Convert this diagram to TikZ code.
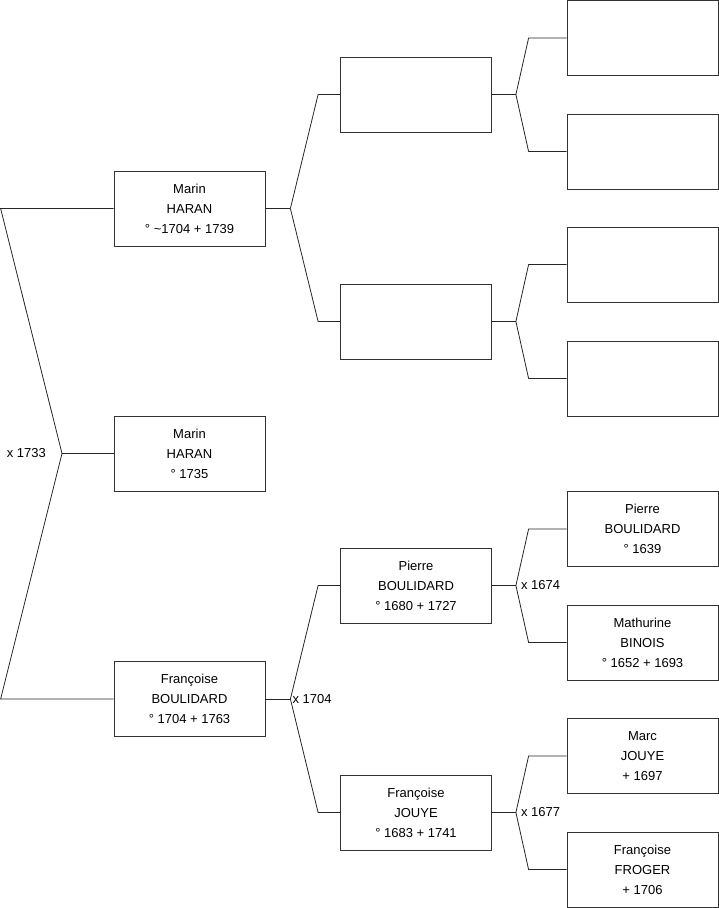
\documentclass[tikz,border=0pt]{standalone}
\usepackage{fontspec}
\setmainfont{Liberation Sans}
\begin{document}
\begin{tikzpicture}[
    x=1pt,y=-1pt,
    person/.style={
        draw=black!80,
        line width=0.8pt,
        minimum width=151pt,
        minimum height=75pt,
        inner sep=0pt,
        align=center,
        font=\fontsize{13}{20}\selectfont
    },
    link/.style={draw=black!85, line width=0.8pt},
    wed/.style={font=\fontsize{13}{16}\selectfont, inner sep=1pt}
]
    \useasboundingbox (0,0) rectangle (719,908);

    % generation 1
    \node[person] (marin) at (189.5,208.5) {Marin\\HARAN\\° \textasciitilde1704 + 1739};
    \node[person] (enfant) at (189.5,453.5) {Marin\\HARAN\\° 1735};
    \node[person] (francoise) at (189.5,699) {Françoise\\BOULIDARD\\° 1704 + 1763};

    % generation 2
    \node[person] (gp1) at (416,94.5) {};
    \node[person] (gm1) at (416,321.5) {};
    \node[person] (gp2) at (416,585.5) {Pierre\\BOULIDARD\\° 1680 + 1727};
    \node[person] (gm2) at (416,812.5) {Françoise\\JOUYE\\° 1683 + 1741};

    % generation 3
    \node[person] (ggp1) at (642.5,38) {};
    \node[person] (ggm1) at (642.5,151.5) {};
    \node[person] (ggp2) at (642.5,264.5) {};
    \node[person] (ggm2) at (642.5,378.5) {};
    \node[person] (ggp3) at (642.5,529) {Pierre\\BOULIDARD\\° 1639};
    \node[person] (ggm3) at (642.5,642.5) {Mathurine\\BINOIS\\° 1652 + 1693};
    \node[person] (ggp4) at (642.5,756) {Marc\\JOUYE\\+ 1697};
    \node[person] (ggm4) at (642.5,869.5) {Françoise\\FROGER\\+ 1706};

    % couple of the child
    \coordinate (f0) at (62,453.5);
    \draw[link] (enfant.west) -- (f0);
    \draw[link] (marin.west) -- ++(-113,0) -- (f0);
    \draw[link] (francoise.west) -- ++(-113,0) -- (f0);
    \node[wed, anchor=east] (w0) at ([xshift=-15pt]f0) {x 1733};

    % parents
    \draw[link] (marin.east) -- ++(25,0) coordinate (f1);
    \draw[link] (gp1.west) -- ++(-22,0) -- (f1);
    \draw[link] (gm1.west) -- ++(-22,0) -- (f1);

    \draw[link] (francoise.east) -- ++(25,0) coordinate (f2);
    \draw[link] (gp2.west) -- ++(-22,0) -- (f2);
    \draw[link] (gm2.west) -- ++(-22,0) -- (f2);
    \node[wed, anchor=west] (w2) at ([xshift=1pt]f2) {x 1704};

    % grandparents
    \draw[link] (gp1.east) -- ++(24,0) coordinate (f3);
    \draw[link] (ggp1.west) -- ++(-38,0) -- (f3);
    \draw[link] (ggm1.west) -- ++(-38,0) -- (f3);

    \draw[link] (gm1.east) -- ++(24,0) coordinate (f4);
    \draw[link] (ggp2.west) -- ++(-38,0) -- (f4);
    \draw[link] (ggm2.west) -- ++(-38,0) -- (f4);

    \draw[link] (gp2.east) -- ++(24,0) coordinate (f5);
    \draw[link] (ggp3.west) -- ++(-38,0) -- (f5);
    \draw[link] (ggm3.west) -- ++(-38,0) -- (f5);
    \node[wed, anchor=west] (w5) at ([xshift=4pt]f5) {x 1674};

    \draw[link] (gm2.east) -- ++(24,0) coordinate (f6);
    \draw[link] (ggp4.west) -- ++(-38,0) -- (f6);
    \draw[link] (ggm4.west) -- ++(-38,0) -- (f6);
    \node[wed, anchor=west] (w6) at ([xshift=4pt]f6) {x 1677};

\end{tikzpicture}
\end{document}
